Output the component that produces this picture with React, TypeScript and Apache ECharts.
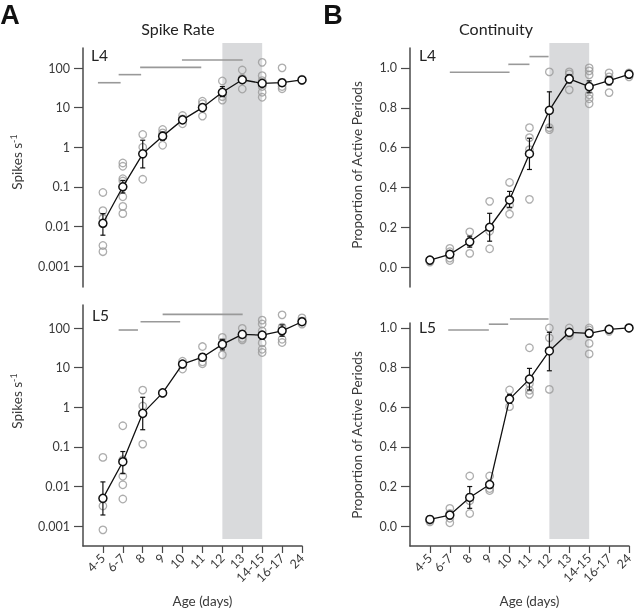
import React, { useEffect, useRef } from "react";
import * as echarts from "echarts";

const categories = ["4-5", "6-7", "8", "9", "10", "11", "12", "13", "14-15", "16-17", "24"];

// Panel A, L4 spike rate
const l4RateMean = [0.012, 0.1, 0.68, 1.9, 4.9, 10, 24.4, 50.5, 41, 42.5, 50];
const l4RateLo = [0.006, 0.07, 0.3, 1.5, 4.3, 8.5, 19, 44, 35, 36, 47];
const l4RateHi = [0.021, 0.145, 1.5, 2.4, 5.6, 11.5, 34, 58, 48, 50, 53];
const l4RatePoints = [
  [0.072, 0.025, 0.016, 0.0033, 0.0023],
  [0.4, 0.33, 0.16, 0.14, 0.056, 0.032, 0.021],
  [2.1, 1.0, 0.155],
  [2.8, 2.3, 1.12],
  [6.3, 5.2, 3.9],
  [14.5, 12.5, 6.1],
  [47, 19, 15.5],
  [89, 55, 29.5],
  [139, 64, 48, 34, 24.5, 18.2],
  [101, 34, 30],
  [52, 48],
];
const l4RateSig = [
  [-0.25, 0.89, 42.5],
  [0.79, 1.92, 68],
  [1.87, 4.94, 104],
  [3.97, 7.02, 159],
];

// Panel A, L5 spike rate
const l5RateMean = [0.005, 0.042, 0.7, 2.3, 12.3, 18.3, 38.7, 69, 66, 85, 144];
const l5RateLo = [0.0019, 0.021, 0.27, 2.1, 10.5, 15, 28, 60, 52, 62, 130];
const l5RateHi = [0.013, 0.076, 1.78, 2.5, 14, 22, 52, 78, 78, 120, 160];
const l5RatePoints = [
  [0.054, 0.0032, 0.0008],
  [0.34, 0.047, 0.018, 0.011, 0.0048],
  [2.7, 1.07, 0.117],
  [2.3, 2.2],
  [14.5, 12, 9.2],
  [34, 14, 12.5],
  [58, 40, 21],
  [98, 55, 50],
  [158, 126, 84, 42, 29, 24],
  [215, 105, 52, 43],
  [180, 150, 125],
];
const l5RateSig = [
  [0.79, 1.76, 89],
  [1.89, 3.88, 144],
  [3.0, 7.02, 221],
];

// Panel B, L4 continuity
const l4ContMean = [0.035, 0.064, 0.127, 0.2, 0.337, 0.569, 0.787, 0.945, 0.906, 0.936, 0.968];
const l4ContLo = [0.028, 0.05, 0.1, 0.13, 0.3, 0.49, 0.7, 0.925, 0.875, 0.915, 0.962];
const l4ContHi = [0.04, 0.078, 0.155, 0.27, 0.38, 0.647, 0.88, 0.965, 0.935, 0.957, 0.974];
const l4ContPoints = [
  [0.035, 0.025, 0.03],
  [0.094, 0.077, 0.045, 0.033],
  [0.177, 0.13, 0.069],
  [0.33, 0.18, 0.092],
  [0.425, 0.31, 0.266],
  [0.7, 0.65, 0.59, 0.34],
  [0.98, 0.7, 0.69],
  [0.98, 0.97, 0.95, 0.89],
  [1.0, 0.985, 0.965, 0.865, 0.845, 0.82],
  [0.975, 0.955, 0.876],
  [0.975, 0.955],
];
const l4ContSig = [
  [1.0, 4.0, 0.978],
  [3.94, 5.0, 1.018],
  [5.0, 5.96, 1.057],
];

// Panel B, L5 continuity
const l5ContMean = [0.034, 0.056, 0.145, 0.21, 0.641, 0.742, 0.884, 0.978, 0.973, 0.993, 1.0];
const l5ContLo = [0.03, 0.04, 0.09, 0.195, 0.62, 0.687, 0.784, 0.97, 0.955, 0.988, 0.997];
const l5ContHi = [0.038, 0.07, 0.2, 0.225, 0.665, 0.796, 0.978, 0.986, 0.99, 0.998, 1.002];
const l5ContPoints = [
  [0.034, 0.022, 0.03],
  [0.09, 0.064, 0.04, 0.017],
  [0.253, 0.128, 0.064],
  [0.253, 0.19, 0.18],
  [0.687, 0.64, 0.603],
  [0.9, 0.72, 0.685, 0.665],
  [1.0, 0.95, 0.69],
  [1.0, 0.97, 0.96],
  [1.0, 0.99, 0.922, 0.869],
  [0.995, 0.983],
  [1.0],
];
const l5ContSig = [
  [0.92, 2.96, 0.99],
  [2.96, 3.93, 1.019],
  [4.02, 5.96, 1.045],
];

const rateTicks = [0.001, 0.01, 0.1, 1, 10, 100];
const contTicks = [0, 0.2, 0.4, 0.6, 0.8, 1.0];
const catIdx = categories.map((_, i) => i);

const FONT = "Lato";
const AXIS = "#4a4a4a";
const LABEL = "#3a3a3a";

function panelSeries(g: number, mean: number[], lo: number[], hi: number[], points: number[][], sig: number[][]) {
  const scatterData: number[][] = [];
  points.forEach((arr, i) => arr.forEach((v) => scatterData.push([i, v])));
  return [
    {
      type: "scatter",
      xAxisIndex: g,
      yAxisIndex: g,
      data: scatterData,
      symbol: "circle",
      symbolSize: 7.5,
      itemStyle: { color: "rgba(0,0,0,0)", borderColor: "#999", borderWidth: 1.3 },
      z: 2,
      silent: true,
    },
    {
      type: "custom",
      xAxisIndex: g,
      yAxisIndex: g,
      data: sig,
      encode: { x: [0, 1], y: 2 },
      renderItem: (params: any, api: any) => {
        const p1 = api.coord([api.value(0), api.value(2)]);
        const p2 = api.coord([api.value(1), api.value(2)]);
        return {
          type: "line",
          shape: { x1: p1[0], y1: p1[1], x2: p2[0], y2: p2[1] },
          style: { stroke: "#999", lineWidth: 1.6 },
        };
      },
      z: 2,
      silent: true,
    },
    {
      type: "custom",
      xAxisIndex: g,
      yAxisIndex: g,
      data: lo.map((l, i) => [i, l, hi[i]]),
      encode: { x: 0, y: [1, 2] },
      renderItem: (params: any, api: any) => {
        const i = api.value(0);
        const a = api.coord([i, api.value(1)]);
        const b = api.coord([i, api.value(2)]);
        const w = 2.5;
        const st = { stroke: "#111", lineWidth: 1.2 };
        return {
          type: "group",
          children: [
            { type: "line", shape: { x1: a[0], y1: a[1], x2: b[0], y2: b[1] }, style: st },
            { type: "line", shape: { x1: a[0] - w, y1: a[1], x2: a[0] + w, y2: a[1] }, style: st },
            { type: "line", shape: { x1: b[0] - w, y1: b[1], x2: b[0] + w, y2: b[1] }, style: st },
          ],
        };
      },
      z: 3,
      silent: true,
    },
    {
      type: "line",
      xAxisIndex: g,
      yAxisIndex: g,
      data: mean.map((v, i) => [i, v]),
      symbol: "circle",
      symbolSize: 8,
      showAllSymbol: true,
      lineStyle: { color: "#111", width: 1.3 },
      itemStyle: { color: "#fff", borderColor: "#111", borderWidth: 1.5 },
      z: 4,
      silent: true,
    },
  ];
}

function xAxisDef(g: number, show: boolean) {
  return {
    type: "value",
    gridIndex: g,
    min: -1,
    max: 10,
    show,
    splitLine: { show: false },
    axisLine: { show: true, onZero: false, lineStyle: { color: AXIS, width: 1.5 } },
    axisTick: { show: true, customValues: catIdx, length: 7, lineStyle: { color: AXIS, width: 1.2 } },
    axisLabel: {
      show: true,
      customValues: catIdx,
      formatter: (v: number) => categories[Math.round(v)] ?? "",
      rotate: 45,
      margin: 10,
      fontSize: 12.5,
      fontFamily: FONT,
      color: LABEL,
    },
    name: show ? "Age (days)" : "",
    nameLocation: "middle",
    nameGap: 48,
    nameTextStyle: { fontSize: 13.5, fontFamily: FONT, color: LABEL, padding: [0, 0, 0, 20] },
  };
}

function yAxisDef(g: number, log: boolean, min: number, max: number) {
  return {
    type: log ? "log" : "value",
    gridIndex: g,
    min,
    max,
    logBase: 10,
    splitLine: { show: false },
    axisLine: { show: true, onZero: false, lineStyle: { color: AXIS, width: 1.5 } },
    axisTick: { show: true, customValues: log ? rateTicks : contTicks, length: 9, lineStyle: { color: AXIS, width: 1.2 } },
    axisLabel: {
      customValues: log ? rateTicks : contTicks,
      formatter: log ? (v: number) => String(Number(v.toPrecision(3))) : (v: number) => v.toFixed(1),
      margin: 13,
      fontSize: 12.5,
      fontFamily: FONT,
      color: LABEL,
    },
  };
}

export default function App() {
  const ref = useRef<HTMLDivElement>(null);
  useEffect(() => {
    if (!ref.current) return;
    const chart = echarts.init(ref.current, undefined, { renderer: "svg" });
    const txt = (text: string, x: number, y: number, size: number, extra: any = {}) => ({
      type: "text",
      x,
      y,
      silent: true,
      style: { text, fontSize: size, fontFamily: FONT, fill: "#222", align: "center", verticalAlign: "middle", ...extra },
    });
    const vtxt = (text: string, x: number, y: number, rich?: any) => ({
      type: "text",
      x,
      y,
      rotation: Math.PI / 2,
      silent: true,
      style: {
        text,
        fontSize: 13.5,
        fontFamily: FONT,
        fill: LABEL,
        align: "center",
        verticalAlign: "middle",
        lineHeight: 16,
        rich,
      },
    });
    const supRich = {
      sup: { fontSize: 9, fontFamily: FONT, fill: LABEL, verticalAlign: "top", lineHeight: 16, padding: [0, 0, 6, 0] },
    };
    const option: any = {
      animation: false,
      grid: [
        { left: 83, top: 48, width: 219, height: 239 },
        { left: 83, top: 305, width: 219, height: 241 },
        { left: 410, top: 48, width: 219, height: 239 },
        { left: 410, top: 323, width: 219, height: 223 },
      ],
      xAxis: [xAxisDef(0, false), xAxisDef(1, true), xAxisDef(2, false), xAxisDef(3, true)],
      yAxis: [
        yAxisDef(0, true, 0.000295, 320),
        yAxisDef(1, true, 0.000313, 381),
        yAxisDef(2, false, -0.1, 1.1),
        yAxisDef(3, false, -0.1, 1.025),
      ],
      series: [
        ...panelSeries(0, l4RateMean, l4RateLo, l4RateHi, l4RatePoints, l4RateSig),
        ...panelSeries(1, l5RateMean, l5RateLo, l5RateHi, l5RatePoints, l5RateSig),
        ...panelSeries(2, l4ContMean, l4ContLo, l4ContHi, l4ContPoints, l4ContSig),
        ...panelSeries(3, l5ContMean, l5ContLo, l5ContHi, l5ContPoints, l5ContSig),
      ],
      graphic: [
        txt("A", 10, 15, 27, { fontWeight: "bold", fontFamily: "Liberation Sans", fill: "#111" }),
        txt("B", 333, 15, 27, { fontWeight: "bold", fontFamily: "Liberation Sans", fill: "#111" }),
        txt("Spike Rate", 178, 28, 16),
        txt("Continuity", 496, 28, 16),
        txt("L4", 91, 55, 15.5, { align: "left" }),
        txt("L5", 92, 315, 15.5, { align: "left" }),
        txt("L4", 419, 55, 15.5, { align: "left" }),
        txt("L5", 419, 327, 15.5, { align: "left" }),
        vtxt("Spikes s{sup|-1}", 17, 162, supRich),
        vtxt("Spikes s{sup|-1}", 17, 401, supRich),
        vtxt("Proportion of Active Periods", 357, 165),
        vtxt("Proportion of Active Periods", 357, 435),
      ],
    };
    chart.setOption(option);
    const ax0 = chart.convertToPixel({ xAxisIndex: 0 } as any, 6) as unknown as number;
    const ax1 = chart.convertToPixel({ xAxisIndex: 0 } as any, 8) as unknown as number;
    const bx0 = chart.convertToPixel({ xAxisIndex: 2 } as any, 6) as unknown as number;
    const bx1 = chart.convertToPixel({ xAxisIndex: 2 } as any, 8) as unknown as number;
    chart.setOption({
      graphic: [
        ...option.graphic,
        { type: "rect", z: -10, silent: true, shape: { x: ax0, y: 43, width: ax1 - ax0, height: 496 }, style: { fill: "#d9dadc" } },
        { type: "rect", z: -10, silent: true, shape: { x: bx0, y: 43, width: bx1 - bx0, height: 496 }, style: { fill: "#d9dadc" } },
      ],
    }, { replaceMerge: ["graphic"] });
    return () => chart.dispose();
  }, []);
  return <div ref={ref} style={{ position: "fixed", left: 0, top: 0, width: 640, height: 611 }} />;
}
